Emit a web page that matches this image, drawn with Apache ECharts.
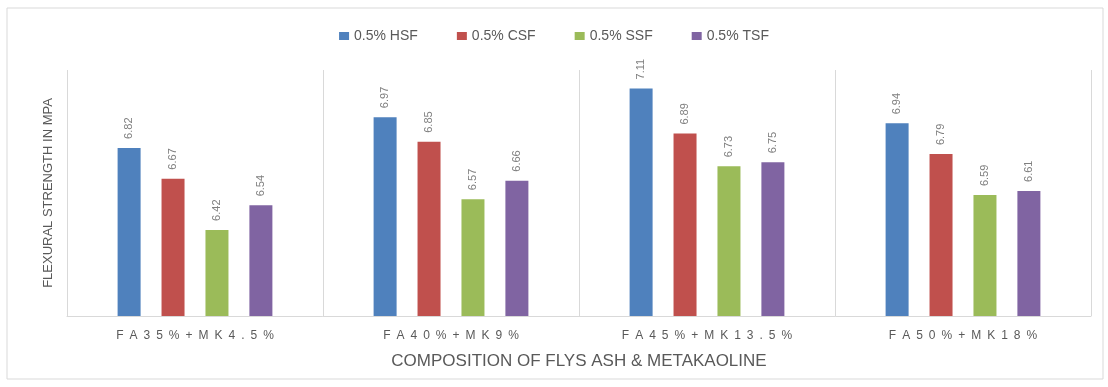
<!DOCTYPE html>
<html>
<head>
<meta charset="utf-8">
<script src="https://cdn.jsdelivr.net/npm/echarts@6/dist/echarts.min.js"></script>
<style>
  html, body { margin: 0; padding: 0; background: #fff; }
  #chart { width: 1108px; height: 387px; }
</style>
</head>
<body>
<div id="chart"></div>
<script>
// data
var categories = ['FA35%+MK4.5%', 'FA40%+MK9%', 'FA45%+MK13.5%', 'FA50%+MK18%'];
var seriesNames = ['0.5% HSF', '0.5% CSF', '0.5% SSF', '0.5% TSF'];
var hsf = [6.82, 6.97, 7.11, 6.94];
var csf = [6.67, 6.85, 6.89, 6.79];
var ssf = [6.42, 6.57, 6.73, 6.59];
var tsf = [6.54, 6.66, 6.75, 6.61];
var colors = ['#4F81BD', '#C0504D', '#9BBB59', '#8064A2'];

var myChart = echarts.init(document.getElementById('chart'));

function makeSeries(name, data, color) {
  return {
    name: name,
    type: 'bar',
    data: data,
    barWidth: 23,
    barGap: '91%',
    itemStyle: { color: color },
    label: {
      show: true,
      position: 'top',
      rotate: 90,
      align: 'left',
      verticalAlign: 'middle',
      distance: 9,
      fontSize: 11,
      color: '#7f7f7f',
      formatter: function (p) { return p.value.toFixed(2); }
    }
  };
}

var option = {
  animation: false,
  textStyle: { fontFamily: 'Liberation Sans, sans-serif' },
  graphic: [{
    type: 'rect',
    shape: { x: 7, y: 8, width: 1096, height: 371 },
    style: { fill: 'none', stroke: '#d9d9d9', lineWidth: 1 },
    z: -1
  }],
  legend: {
    top: 24,
    left: 'center',
    itemWidth: 10,
    itemHeight: 8,
    itemGap: 39,
    icon: 'rect',
    textStyle: { fontSize: 14, color: '#595959' },
    data: seriesNames
  },
  grid: { left: 67, right: 17, top: 70, bottom: 71 },
  xAxis: {
    type: 'category',
    data: categories,
    name: 'COMPOSITION OF FLYS ASH & METAKAOLINE',
    nameLocation: 'middle',
    nameGap: 37,
    nameTextStyle: { fontSize: 17, color: '#595959' },
    axisLine: { show: true, lineStyle: { color: '#d9d9d9' } },
    axisTick: { show: false },
    splitLine: { show: true, lineStyle: { color: '#d9d9d9' } },
    axisLabel: {
      fontSize: 12,
      color: '#595959',
      margin: 14,
      formatter: function (v) { return v.split('').join('\u2002'); }
    }
  },
  yAxis: {
    type: 'value',
    min: 6,
    max: 7.2,
    name: 'FLEXURAL STRENGTH IN MPA',
    nameLocation: 'middle',
    nameGap: 12,
    nameTextStyle: { fontSize: 13, color: '#595959' },
    axisLine: { show: false },
    axisTick: { show: false },
    axisLabel: { show: false },
    splitLine: { show: false }
  },
  series: [
    makeSeries(seriesNames[0], hsf, colors[0]),
    makeSeries(seriesNames[1], csf, colors[1]),
    makeSeries(seriesNames[2], ssf, colors[2]),
    makeSeries(seriesNames[3], tsf, colors[3])
  ]
};
myChart.setOption(option);
</script>
</body>
</html>
